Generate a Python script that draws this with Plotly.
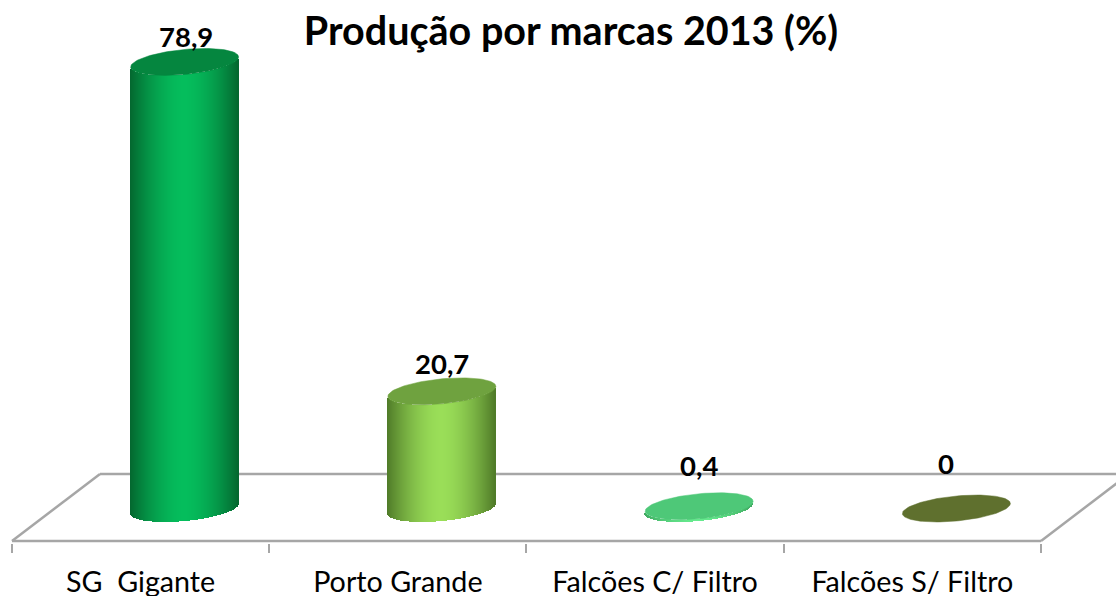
import numpy as np
import plotly.graph_objects as go

categories = ["SG\u00a0\u00a0Gigante", "Porto Grande", "Falcões C/ Filtro", "Falcões S/ Filtro"]
values = [78.9, 20.7, 0.4, 0.0]
value_labels = ["78,9", "20,7", "0,4", "0"]
title_text = "Produção por marcas 2013 (%)"

side_mid = ["#05BD5C", "#9ADE58", "#66EA8E", "#6F8438"]
side_edge = ["#04672F", "#4F7A28", "#3FA860", "#4A5A22"]
cap_colors = ["#05863F", "#6FA23F", "#4EC878", "#5F702E"]
label_shift_x = [1, 0, 0, -10]
label_shift_y = [25, 28, 41, 45]

W, H = 1116, 596
BAND = 257.25            # px per category
X0 = 140.6               # px of category 0 label
BAR_SHIFT = 44 / BAND    # perspective shift of the cylinders on the floor
PX_Y = 5.66              # px per value unit
BASE_PX = 508.5          # px of value 0
AXIS_PX = 543
GREY = "#A6A6A6"

xr = [(0 - X0) / BAND, (W - X0) / BAND]
yr = [-(AXIS_PX - BASE_PX) / PX_Y, BASE_PX / PX_Y]
xdata = lambda px: (px - X0) / BAND
ydata = lambda py: (BASE_PX - py) / PX_Y

A_X = 54 / BAND          # semi-width of the cylinder
TILT = 5 / PX_Y
MINOR = 12.5 / PX_Y


def hex_mix(c1, c2, t):
    a = [int(c1[i:i + 2], 16) for i in (1, 3, 5)]
    b = [int(c2[i:i + 2], 16) for i in (1, 3, 5)]
    return "rgb(%d,%d,%d)" % tuple(round(p + (q - p) * t) for p, q in zip(a, b))


fig = go.Figure()

# Floor of the 3D plot, below the cylinders
floor = [
    (12, 541, 100, 474),
    (100, 474, 1129, 474),
    (12, 541, 1041, 541),
    (1041, 541, 1129, 474),
]
for x0, y0, x1, y1 in floor:
    fig.add_shape(
        type="line", layer="below", xref="x", yref="y",
        x0=xdata(x0), y0=ydata(y0), x1=xdata(x1), y1=ydata(y1),
        line=dict(color=GREY, width=2.5),
    )

# Cylinders: shaded strips plus an elliptical cap
n = 108
u = (np.arange(n) + 0.5) / n * 2 - 1
for i, v in enumerate(values):
    cx = i + BAR_SHIFT
    lower = TILT * u - MINOR * np.sqrt(1 - u ** 2)
    colors = [hex_mix(side_mid[i], side_edge[i], abs(w) ** 1.7) for w in u]
    fig.add_trace(go.Bar(
        x=cx + u * A_X, y=[v] * n, base=lower,
        width=2 * A_X / n * 1.5, marker=dict(color=colors, line=dict(width=0)),
        hoverinfo="skip", showlegend=False,
    ))
    t = np.linspace(0, 2 * np.pi, 121)
    fig.add_trace(go.Scatter(
        x=cx + A_X * np.cos(t), y=v + TILT * np.cos(t) + MINOR * np.sin(t),
        mode="lines", fill="toself", fillcolor=cap_colors[i],
        line=dict(color=cap_colors[i], width=0.5), hoverinfo="skip", showlegend=False,
    ))

for i, v in enumerate(values):
    fig.add_annotation(
        x=i + BAR_SHIFT, y=v, text=value_labels[i], showarrow=False,
        xshift=label_shift_x[i], yshift=label_shift_y[i], yanchor="middle",
        font=dict(family="Lato", size=27.5, color="black", weight="bold"),
    )

fig.update_layout(
    width=W, height=H, autosize=False, barmode="overlay", bargap=0,
    paper_bgcolor="white", plot_bgcolor="white",
    margin=dict(l=0, r=0, t=0, b=H - AXIS_PX, pad=0, autoexpand=False),
    title=dict(text=title_text, x=571 / W, xanchor="center", y=1 - 31 / H, yanchor="middle",
               font=dict(family="Lato", size=39.5, color="black", weight="bold")),
    xaxis=dict(
        range=xr, showgrid=False, zeroline=False, showline=False, automargin=False,
        tickmode="array", tickvals=list(range(len(categories))), ticktext=categories,
        ticks="outside", ticklen=14, tickwidth=1, tickcolor="rgba(0,0,0,0)",
        tickfont=dict(family="Lato", size=28.7, color="black"), tickangle=0,
        minor=dict(tickmode="array", tickvals=[k - 0.5 for k in range(len(categories) + 1)],
                   ticks="outside", ticklen=9, tickwidth=2, tickcolor=GREY, showgrid=False),
    ),
    yaxis=dict(range=yr, visible=False, automargin=False),
)
fig.write_html("out.html", config=dict(displayModeBar=False),
               post_script="document.body.style.margin='0';document.body.style.overflow='hidden';")
